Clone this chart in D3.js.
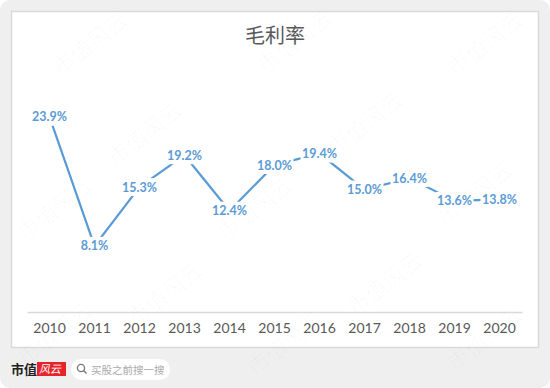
<!DOCTYPE html>
<html>
<head>
<meta charset="utf-8">
<script src="https://cdn.jsdelivr.net/npm/d3@7"></script>
<style>
  html, body { margin: 0; padding: 0; background: #fff; }
  svg { display: block; }
</style>
</head>
<body>
<div id="chart"></div>
<script>
const years = ['2010', '2011', '2012', '2013', '2014', '2015', '2016', '2017', '2018', '2019', '2020'];
const grossMargin = [23.9, 8.1, 15.3, 19.2, 12.4, 18.0, 19.4, 15.0, 16.4, 13.6, 13.8];
const chartTitle = '毛利率';

const width = 550;
const height = 388;

const svg = d3.select('#chart').append('svg')
  .attr('width', width)
  .attr('height', height);

// outer card + white panel
svg.append('rect')
  .attr('width', width)
  .attr('height', height)
  .attr('rx', 10)
  .style('fill', '#efefef');

svg.append('rect')
  .attr('x', 11.5)
  .attr('y', 11.5)
  .attr('width', 527)
  .attr('height', 336)
  .style('fill', '#fff')
  .style('stroke', '#d9d9d9')
  .style('stroke-width', 1.5);

// watermarks (kept inside the card)
const markPos = [
  [95, 50], [300, 48], [490, 50],
  [150, 140], [370, 130],
  [60, 215], [260, 215], [480, 200],
  [170, 300], [390, 290],
  [60, 340], [290, 350], [490, 345]
];
svg.append('g').selectAll('text')
  .data(markPos)
  .enter().append('text')
  .attr('transform', d => `translate(${d[0]},${d[1]}) rotate(-38)`)
  .style('font-family', '"Noto Sans CJK SC"')
  .style('font-size', '22px')
  .style('font-weight', 300)
  .style('text-anchor', 'middle')
  .style('fill', '#000')
  .style('fill-opacity', 0.035)
  .text('市值风云');

// title
svg.append('text')
  .attr('x', 275)
  .attr('y', 43)
  .style('font-family', '"Noto Sans CJK SC"')
  .style('font-size', '20px')
  .style('text-anchor', 'middle')
  .style('fill', '#595959')
  .text(chartTitle);

const x = d3.scaleBand()
  .domain(years)
  .range([27, 522]);

const y = d3.scaleLinear()
  .domain([0, 30])
  .range([312, 67]);

// category axis
const xAxis = svg.append('g')
  .attr('transform', `translate(0,${y(0)})`)
  .call(d3.axisBottom(x).tickSize(0).tickPadding(11));
xAxis.select('.domain')
  .style('stroke', '#d9d9d9')
  .style('stroke-width', 1.3);
xAxis.selectAll('text')
  .style('font-family', 'Lato')
  .style('font-size', '14px')
  .style('fill', '#595959');

const cx = d => x(d.year) + x.bandwidth() / 2;
const points = years.map((year, i) => ({ year, value: grossMargin[i] }));

svg.append('path')
  .datum(points)
  .attr('d', d3.line().x(cx).y(d => y(d.value)))
  .style('fill', 'none')
  .style('stroke', '#5b9bd5')
  .style('stroke-width', 2.2);

// data labels sit on the points, white box hides the line
const labels = svg.selectAll('.label')
  .data(points)
  .enter().append('g')
  .attr('class', 'label')
  .attr('transform', d => `translate(${cx(d)},${y(d.value)})`);

labels.append('rect')
  .attr('x', -19)
  .attr('y', -9)
  .attr('width', 38)
  .attr('height', 18)
  .style('fill', '#fff');

labels.append('text')
  .attr('dy', '0.36em')
  .style('font-family', 'Lato')
  .style('font-size', '12.5px')
  .style('font-weight', 'bold')
  .style('text-anchor', 'middle')
  .style('fill', '#5b9bd5')
  .text(d => d.value.toFixed(1) + '%');

// footer brand
const foot = svg.append('g');
foot.append('text')
  .attr('x', 11)
  .attr('y', 374)
  .style('font-family', '"Noto Sans CJK SC"')
  .style('font-size', '13px')
  .style('font-weight', 'bold')
  .style('fill', '#222')
  .text('市值');
foot.append('rect')
  .attr('x', 37)
  .attr('y', 362)
  .attr('width', 29)
  .attr('height', 14)
  .style('fill', '#e8242b');
foot.append('text')
  .attr('x', 51.5)
  .attr('y', 373.5)
  .attr('transform', 'skewX(-12)')
  .attr('dx', 78)
  .style('font-family', '"Noto Sans CJK SC"')
  .style('font-size', '11px')
  .style('text-anchor', 'middle')
  .style('fill', '#fff')
  .text('风云');
foot.append('rect')
  .attr('x', 71)
  .attr('y', 359)
  .attr('width', 99)
  .attr('height', 21)
  .attr('rx', 10.5)
  .style('fill', '#fff');
foot.append('circle')
  .attr('cx', 81)
  .attr('cy', 368)
  .attr('r', 3.6)
  .style('fill', 'none')
  .style('stroke', '#777')
  .style('stroke-width', 1.3);
foot.append('line')
  .attr('x1', 83.6)
  .attr('y1', 370.6)
  .attr('x2', 86.5)
  .attr('y2', 373.5)
  .style('stroke', '#777')
  .style('stroke-width', 1.4);
foot.append('text')
  .attr('x', 91)
  .attr('y', 373.5)
  .style('font-family', '"Noto Sans CJK SC"')
  .style('font-size', '10.5px')
  .style('fill', '#aaa')
  .text('买股之前搜一搜');
</script>
</body>
</html>
